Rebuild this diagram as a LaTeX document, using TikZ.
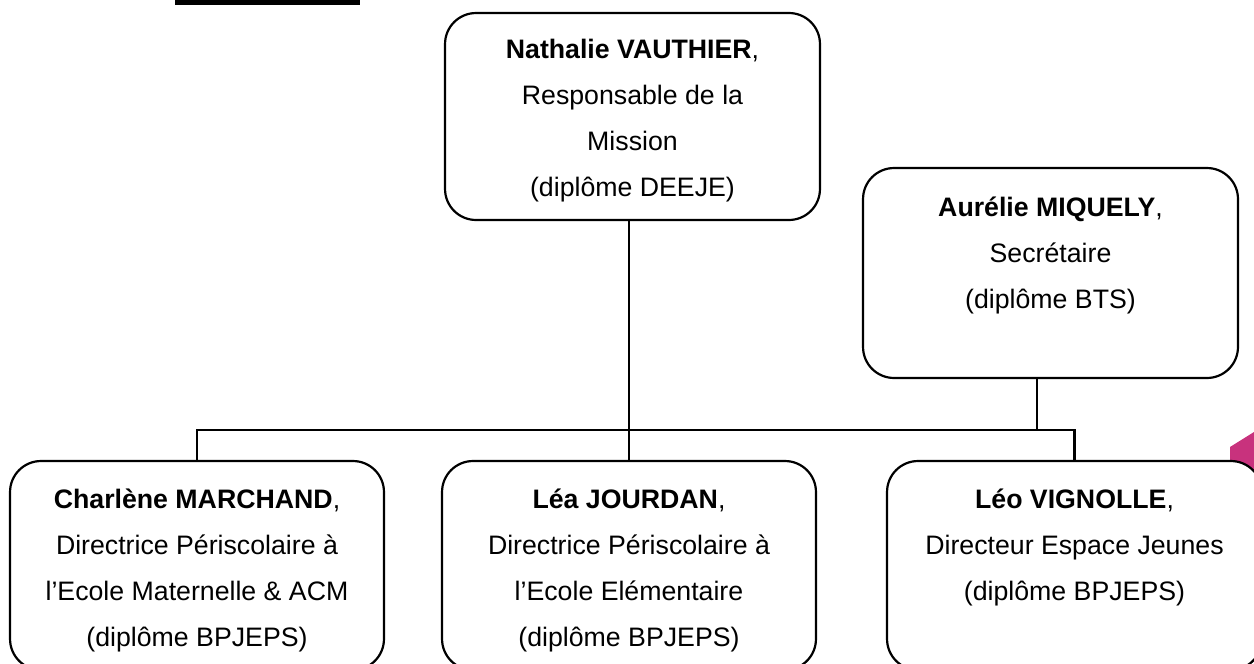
\documentclass[tikz,border=0pt]{standalone}
\usepackage{fontspec}
\setmainfont{Liberation Sans}
\definecolor{mag}{RGB}{200,50,125}
\begin{document}
\begin{tikzpicture}[x=0.02cm,y=-0.02cm,
  box/.style={draw=black, fill=white, line width=1.25pt, rounded corners=0.62cm,
    minimum width=7.5cm, inner sep=0pt},
  txt/.style={anchor=north, align=center, inner sep=0pt,
    font=\fontsize{15.2}{26.2}\selectfont},
  conn/.style={draw=black, line width=1.6pt}]
\useasboundingbox (0,0) rectangle (1254,663);
\clip (0,0) rectangle (1254,663);
% decorative bar and magenta shape
\fill[black] (175,0) rectangle (360,5);
\fill[mag] (1230,447) -- (1254,432) -- (1254,500) -- (1230,500) -- cycle;
% boxes
\node[box, minimum height=4.14cm] (N) at (632.5,116.5) {};
\node[box, minimum height=4.2cm] (A) at (1050.5,273) {};
\node[box, minimum height=4.18cm, minimum width=7.48cm] (C) at (197,565.5) {};
\node[box, minimum height=4.18cm, minimum width=7.48cm] (L) at (629,565.5) {};
\node[box, minimum height=4.18cm] (V) at (1074.5,565.5) {};
% texts
\node[txt] (tN) at ([yshift=-0.28cm]N.north) {\strut\textbf{Nathalie VAUTHIER},\\Responsable de la\\Mission\\(diplôme DEEJE)};
\node[txt] (tA) at ([yshift=-0.33cm]A.north) {\strut\textbf{Aurélie MIQUELY},\\Secrétaire\\(diplôme BTS)};
\node[txt] (tC) at ([yshift=-0.32cm]C.north) {\strut\textbf{Charlène MARCHAND},\\Directrice Périscolaire à\\l’Ecole Maternelle \& ACM\\(diplôme BPJEPS)};
\node[txt] (tL) at ([yshift=-0.32cm]L.north) {\strut\textbf{Léa JOURDAN},\\Directrice Périscolaire à\\l’Ecole Elémentaire\\(diplôme BPJEPS)};
\node[txt] (tV) at ([yshift=-0.32cm]V.north) {\strut\textbf{Léo VIGNOLLE},\\Directeur Espace Jeunes\\(diplôme BPJEPS)};
% connectors
\coordinate (bus) at (0,430);
\draw[conn] (N.south -| L.north) -- (L.north);
\draw[conn] (C.north) -- (C.north |- bus) -- (V.north |- bus) -- (V.north);
\coordinate (a1) at ([xshift=-0.27cm]A.south);
\draw[conn] (a1) -- (a1 |- bus);
\end{tikzpicture}
\end{document}
